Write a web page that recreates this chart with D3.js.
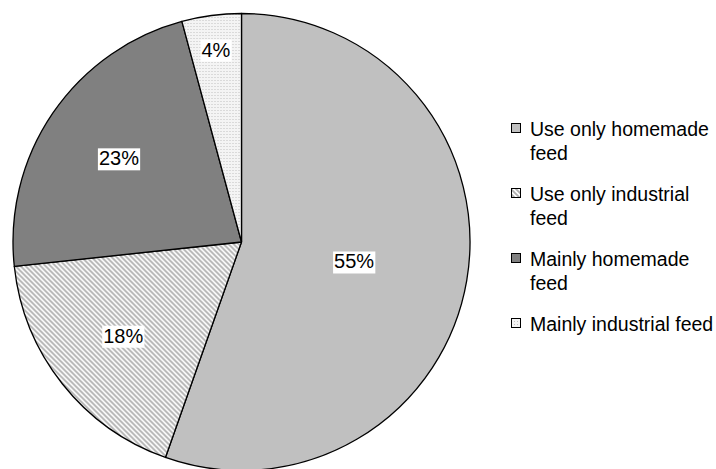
<!doctype html>
<html>
  <head>
    <script src="https://cdnjs.cloudflare.com/ajax/libs/d3/7.8.5/d3.min.js"></script>
  <style>
    body { margin: 0; background: #fff; }
    text { font-family: "Liberation Sans", Arial, sans-serif; }
  </style>
  </head>
  <body>
    <svg id="chart" width="716" height="469"></svg>
    <script>
      var categories = ["Use only homemade feed", "Use only industrial feed", "Mainly homemade feed", "Mainly industrial feed"];
      var legendLines = [["Use only homemade", "feed"], ["Use only industrial", "feed"], ["Mainly homemade", "feed"], ["Mainly industrial feed"]];
      var values = [55.4, 17.9, 22.5, 4.2];
      var labels = ["55%", "18%", "23%", "4%"];

      // layout / style
      var cx = 241.5, cy = 242, r = 228.5;
      var labelFrac = [0.5, 0.66, 0.65, 0.85];
      var fills = ["#c0c0c0", "url(#stripes)", "#808080", "url(#dots)"];

      var svg = d3.select("#chart");
      var defs = svg.append("defs");

      var stripes = defs.append("pattern")
        .attr("id", "stripes")
        .attr("patternUnits", "userSpaceOnUse")
        .attr("width", 5).attr("height", 5);
      stripes.append("rect").attr("width", 5).attr("height", 5).attr("fill", "#fff");
      stripes.append("path")
        .attr("d", "M-1,-1 L6,6 M-1,4 L1,6 M4,-1 L6,1")
        .attr("stroke", "#b0b0b0")
        .attr("stroke-width", 1.8);

      var dots = defs.append("pattern")
        .attr("id", "dots")
        .attr("patternUnits", "userSpaceOnUse")
        .attr("width", 3).attr("height", 3);
      dots.append("rect").attr("width", 3).attr("height", 3).attr("fill", "#f4f4f4");
      dots.append("rect").attr("width", 1).attr("height", 1).attr("fill", "#c0c0c0");

      var pie = d3.pie().sort(null).value(d => d);
      var arcs = pie(values);
      var arc = d3.arc().innerRadius(0).outerRadius(r);

      var g = svg.append("g").attr("transform", "translate(" + cx + "," + cy + ")");

      g.selectAll("path.slice")
        .data(arcs)
        .enter()
        .append("path")
          .attr("class", "slice")
          .attr("d", arc)
          .attr("fill", (d, i) => fills[i])
          .attr("stroke", "#000")
          .attr("stroke-width", 1.3)
          .attr("stroke-linejoin", "round");

      var lbl = g.selectAll("g.lbl")
        .data(arcs)
        .enter()
        .append("g")
          .attr("class", "lbl")
          .attr("transform", (d, i) => {
            var a = d3.arc().innerRadius(r * labelFrac[i]).outerRadius(r * labelFrac[i]);
            return "translate(" + a.centroid(d) + ")";
          });

      lbl.append("rect").attr("fill", "#fff");
      lbl.append("text")
        .attr("text-anchor", "middle")
        .attr("dy", "0.36em")
        .attr("font-size", 20)
        .attr("fill", "#000")
        .text((d, i) => labels[i]);
      lbl.each(function() {
        var t = d3.select(this).select("text").node().getBBox();
        d3.select(this).select("rect")
          .attr("x", t.x - 1).attr("y", t.y + 1)
          .attr("width", t.width + 2).attr("height", t.height);
      });

      var legend = svg.append("g").attr("transform", "translate(511,0)");
      var item = legend.selectAll("g.item")
        .data(categories)
        .enter()
        .append("g")
          .attr("class", "item")
          .attr("transform", (d, i) => "translate(0," + (129 + i * 65) + ")");

      item.append("rect")
        .attr("x", 0.5).attr("y", -5.5)
        .attr("width", 9).attr("height", 9)
        .attr("fill", (d, i) => fills[i])
        .attr("stroke", "#000")
        .attr("stroke-width", 1);

      item.append("text")
        .attr("font-size", 19.5)
        .attr("fill", "#000")
        .selectAll("tspan")
        .data((d, i) => legendLines[i])
        .enter()
        .append("tspan")
          .attr("x", 19)
          .attr("y", (d, j) => j * 24)
          .attr("dy", "0.36em")
          .text(d => d);
    </script>
  </body>
</html>
